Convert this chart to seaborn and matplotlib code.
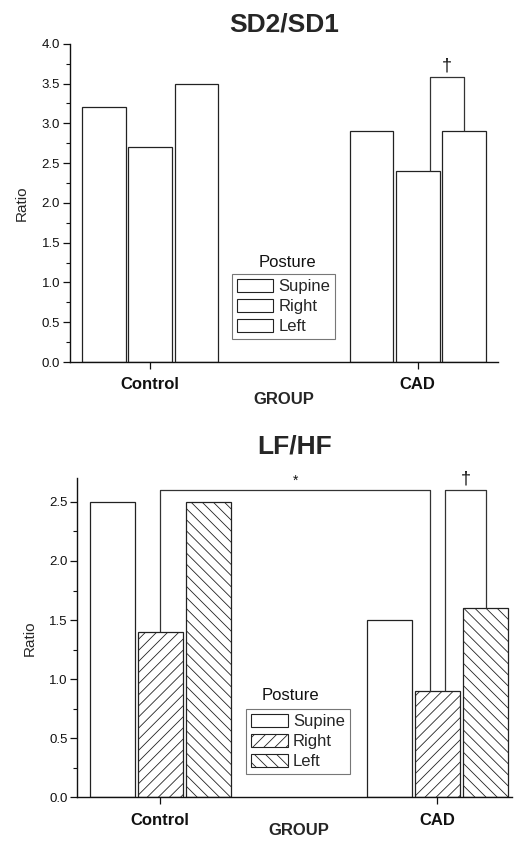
import numpy as np
import pandas as pd
import matplotlib
matplotlib.use("Agg")
import matplotlib.pyplot as plt
import seaborn as sns
from matplotlib.patches import Patch
from matplotlib.ticker import MultipleLocator, FormatStrFormatter

# ---------------- data ----------------
groups = ["Control", "CAD"]
postures = ["Supine", "Right", "Left"]

sd_supine = [3.2, 2.9]
sd_right = [2.7, 2.4]
sd_left = [3.5, 2.9]

lf_supine = [2.5, 1.5]
lf_right = [1.4, 0.9]
lf_left = [2.5, 1.6]

sd_dagger_level = 3.58
lf_star_level = 2.6
lf_dagger_level = 2.6

sd_yticks = [0.0, 0.5, 1.0, 1.5, 2.0, 2.5, 3.0, 3.5, 4.0]
lf_yticks = [0.0, 0.5, 1.0, 1.5, 2.0, 2.5]


def make_df(sup, rig, lef):
    rows = []
    for p, vals in zip(postures, [sup, rig, lef]):
        for g, v in zip(groups, vals):
            rows.append({"Group": g, "Posture": p, "Ratio": v})
    return pd.DataFrame(rows)


df_sd = make_df(sd_supine, sd_right, sd_left)
df_lf = make_df(lf_supine, lf_right, lf_left)

# ---------------- style ----------------
sns.set_style("ticks")
plt.rcParams["font.family"] = ["Liberation Sans", "DejaVu Sans"]
plt.rcParams["hatch.linewidth"] = 0.6
plt.rcParams["axes.linewidth"] = 1.0

fig = plt.figure(figsize=(5.14, 8.42), dpi=100)
ax1 = fig.add_axes([0.136, 0.570, 0.833, 0.378])
ax2 = fig.add_axes([0.150, 0.053, 0.846, 0.379])

EDGE = "#222222"
pal = {p: "white" for p in postures}
hatches = ["", "///", "\\\\\\"]


def draw(ax, df, yticks, ylim, xlim):
    sns.barplot(data=df, x="Group", y="Ratio", hue="Posture", order=groups,
                hue_order=postures, palette=pal, saturation=1,
                edgecolor=EDGE, linewidth=0.9, width=0.52, gap=0.06,
                errorbar=None, legend=False, ax=ax)
    ax.set_ylim(*ylim)
    ax.set_xlim(*xlim)
    ax.set_yticks(yticks)
    ax.yaxis.set_major_formatter(FormatStrFormatter("%.1f"))
    ax.yaxis.set_minor_locator(MultipleLocator(0.25))
    sns.despine(ax=ax)
    for s in ["left", "bottom"]:
        ax.spines[s].set_color("#111111")
    ax.tick_params(axis="y", which="major", length=5, width=0.9,
                   labelsize=9.5, pad=2, colors="#111111")
    ax.tick_params(axis="y", which="minor", length=3, width=0.8,
                   colors="#111111")
    ax.tick_params(axis="x", which="major", length=5, width=0.9, pad=6,
                   labelsize=12, colors="#111111")
    for lab in ax.get_xticklabels():
        lab.set_fontweight("bold")
    ax.set_ylabel("Ratio", fontsize=11, labelpad=9)


def bracket(ax, xa, ya, xb, yb, level, text, size):
    ax.plot([xa, xa, xb, xb], [ya, level, level, yb], color="#333333",
            lw=0.9, solid_capstyle="butt")
    ax.annotate(text, xy=((xa + xb) / 2, level), xytext=(0, 2),
                textcoords="offset points", ha="center", va="bottom",
                fontsize=size, color="#111111")


def legend(ax, x0, ytop, tx, ty, hatched):
    handles = [Patch(facecolor="white", edgecolor=EDGE, linewidth=0.8,
                     hatch=(h if hatched else ""), label=p)
               for p, h in zip(postures, hatches)]
    leg = ax.legend(handles=handles, loc="upper left",
                    bbox_to_anchor=(x0, ytop), borderaxespad=0,
                    fontsize=12, handlelength=2.2, handleheight=0.8,
                    handletextpad=0.3, labelspacing=0.3, borderpad=0.3,
                    frameon=True, fancybox=False, framealpha=1)
    leg.get_frame().set_edgecolor("#777777")
    leg.get_frame().set_linewidth(0.8)
    ax.text(tx, ty, "Posture", transform=ax.transAxes, ha="center",
            va="center", fontsize=12, color="#111111")


# ---------------- top panel ----------------
draw(ax1, df_sd, sd_yticks, (0, 4.0), (-0.30, 1.30))
ax1.set_title("SD2/SD1", fontsize=19, fontweight="bold", pad=9)
ax1.set_xlabel("GROUP", fontsize=12, fontweight="bold", labelpad=0)

r = ax1.containers[1][1]
l = ax1.containers[2][1]
bracket(ax1, r.get_x() + 0.78 * r.get_width(), r.get_height(),
        l.get_x() + 0.5 * l.get_width(), l.get_height(),
        sd_dagger_level, "\u2020", 13)
legend(ax1, 0.378, 0.277, 0.507, 0.314, False)

# ---------------- bottom panel ----------------
draw(ax2, df_lf, lf_yticks, (0, 2.7), (-0.30, 1.27))
for cont, h in zip(ax2.containers, hatches):
    for bar in cont:
        bar.set_hatch(h)
ax2.set_title("LF/HF", fontsize=19, fontweight="bold", pad=18)
ax2.set_xlabel("GROUP", fontsize=12, fontweight="bold", labelpad=-3, x=0.51)

cr = ax2.containers[1][0]
r2 = ax2.containers[1][1]
l2 = ax2.containers[2][1]
bracket(ax2, cr.get_x() + 0.5 * cr.get_width(), cr.get_height(),
        r2.get_x() + 0.34 * r2.get_width(), r2.get_height(),
        lf_star_level, "*", 10)
bracket(ax2, r2.get_x() + 0.68 * r2.get_width(), r2.get_height(),
        l2.get_x() + 0.51 * l2.get_width(), l2.get_height(),
        lf_dagger_level, "\u2020", 13)
legend(ax2, 0.389, 0.277, 0.49, 0.318, True)

fig.savefig("out.png", dpi=100)
